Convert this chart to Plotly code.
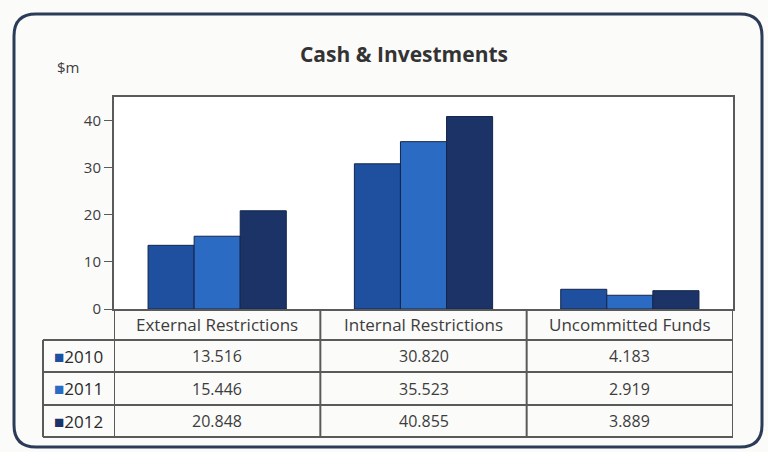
import plotly.graph_objects as go

categories = ["External Restrictions", "Internal Restrictions", "Uncommitted Funds"]
years = ["2010", "2011", "2012"]
values_2010 = [13.516, 30.820, 4.183]
values_2011 = [15.446, 35.523, 2.919]
values_2012 = [20.848, 40.855, 3.889]
series = [values_2010, values_2011, values_2012]
colors = ["#1f4f9f", "#2b6bc3", "#1b3367"]

W, H = 768, 452
L, R, T, B = 114, 35, 97, 143
pw, ph = W - L - R, H - T - B


def px_x(px):
    return (px - L) / pw


def px_y(py):
    return (H - B - py) / ph


font = "'Open Sans', Lato, sans-serif"
txt = "#3d3d3d"
grid = "#5a5a5a"

fig = go.Figure()
for yr, vals, c in zip(years, series, colors):
    fig.add_trace(go.Bar(x=categories, y=vals, name=yr,
                         marker=dict(color=c, line=dict(color="#14264a", width=1))))

# table rows (pixel y of each row's bottom edge)
row_bottoms = [340, 372, 405, 437]
shapes = []
ann = []
left_x = px_x(43)

# horizontal lines
for yb in row_bottoms:
    shapes.append(dict(type="line", xref="paper", yref="paper", x0=left_x, x1=1,
                       y0=px_y(yb), y1=px_y(yb), line=dict(color=grid, width=2)))
# vertical lines at category boundaries
for b in [-0.5, 0.5, 1.5, 2.5]:
    shapes.append(dict(type="line", xref="x", yref="paper", x0=b, x1=b,
                       y0=0, y1=px_y(row_bottoms[-1]), line=dict(color=grid, width=2)))
shapes.append(dict(type="line", xref="paper", yref="paper", x0=left_x, x1=left_x,
                   y0=px_y(row_bottoms[0]), y1=px_y(row_bottoms[-1]),
                   line=dict(color=grid, width=2)))

# header cells
for c in categories:
    ann.append(dict(x=c, xref="x", yref="paper", y=(px_y(309) + px_y(340)) / 2,
                    xanchor="center", yanchor="middle",
                    text=c, showarrow=False, font=dict(size=17, color=txt, family=font)))

# data rows
for i, (yr, vals, col) in enumerate(zip(years, series, colors)):
    yc = (px_y(row_bottoms[i]) + px_y(row_bottoms[i + 1])) / 2
    ann.append(dict(x=left_x / 2, xref="paper", yref="paper", y=yc,
                    xanchor="center", yanchor="middle",
                    text=f"<span style='color:{col}'>■</span>{yr}", showarrow=False,
                    font=dict(size=17, color="#2a2a2a", family=font)))
    for c, v in zip(categories, vals):
        ann.append(dict(x=c, xref="x", yref="paper", y=yc, text=f"{v:.3f}",
                        xanchor="center", yanchor="middle",
                        showarrow=False, font=dict(size=16, color=txt, family=font)))

ann.append(dict(x=px_x(68), y=px_y(67), xref="paper", yref="paper", text="$m",
                xanchor="center", yanchor="middle",
                showarrow=False, font=dict(size=15, color=txt, family=font)))

# rounded outer border
x0, x1, y0, y1, r = 14, 762, 14, 447, 22
pth = (f"M {px_x(x0 + r)} {px_y(y0)} L {px_x(x1 - r)} {px_y(y0)} "
       f"Q {px_x(x1)} {px_y(y0)} {px_x(x1)} {px_y(y0 + r)} "
       f"L {px_x(x1)} {px_y(y1 - r)} Q {px_x(x1)} {px_y(y1)} {px_x(x1 - r)} {px_y(y1)} "
       f"L {px_x(x0 + r)} {px_y(y1)} Q {px_x(x0)} {px_y(y1)} {px_x(x0)} {px_y(y1 - r)} "
       f"L {px_x(x0)} {px_y(y0 + r)} Q {px_x(x0)} {px_y(y0)} {px_x(x0 + r)} {px_y(y0)} Z")
shapes.append(dict(type="path", xref="paper", yref="paper", path=pth,
                   line=dict(color="#2c3b58", width=3), layer="below"))

fig.update_layout(
    width=W, height=H,
    margin=dict(l=L, r=R, t=T, b=B),
    paper_bgcolor="#fbfbfa", plot_bgcolor="#ffffff",
    barmode="group", bargap=0.33, bargroupgap=0,
    showlegend=False,
    title=dict(text="<b>Cash & Investments</b>", x=404 / W, xanchor="center",
               y=1 - 55 / H, yanchor="middle",
               font=dict(size=21, color="#333333", family=font)),
    xaxis=dict(showticklabels=False, ticks="", showline=True, linecolor=grid,
               linewidth=2, mirror=True, range=[-0.5, 2.5]),
    yaxis=dict(range=[0, 45], dtick=10, tick0=0, ticks="outside", ticklen=8,
               tickcolor=grid, showline=True, linecolor=grid, linewidth=2, mirror=True,
               showgrid=False, zeroline=False,
               tickfont=dict(size=15, color=txt, family=font)),
    shapes=shapes, annotations=ann,
)

fig.write_html("out.html", config={"displayModeBar": False},
               post_script="document.body.style.margin='0px';")
